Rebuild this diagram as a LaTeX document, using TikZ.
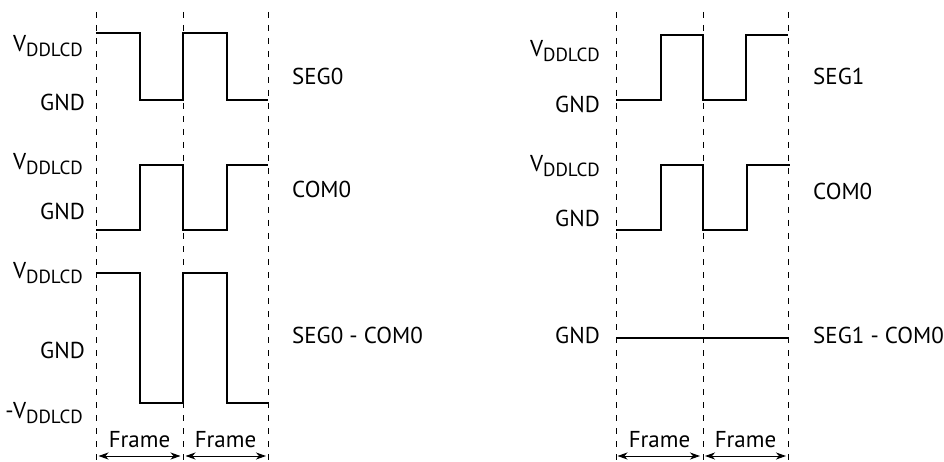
\documentclass[tikz,border=0pt]{standalone}
\usepackage{fontspec}
\setmainfont{PT Sans}
\usetikzlibrary{arrows.meta}
\newcommand{\vdd}{V\raisebox{-5pt}{\fontsize{19}{19}\selectfont DDLCD}}
\begin{document}
\begin{tikzpicture}[x=1pt,y=-1pt,
  lbl/.style={anchor=base east,inner sep=0pt,font=\fontsize{23}{27}\selectfont},
  sig/.style={anchor=base west,inner sep=0pt,font=\fontsize{23}{27}\selectfont},
  frm/.style={anchor=base,inner sep=0pt,font=\fontsize{23}{27}\selectfont},
  wave/.style={line width=2pt,line join=miter},
  guide/.style={line width=0.9pt,dash pattern=on 6pt off 7pt},
  span/.style={line width=1pt,{Stealth[length=10pt,width=7pt,inset=3pt]}-{Stealth[length=10pt,width=7pt,inset=3pt]}}]
\useasboundingbox (0,0) rectangle (944,462);
% dashed guides
\foreach \x in {96,183,268,616,703,788}{
  \draw[guide] (\x,12) -- (\x,462);
}
% ---------- left ----------
\draw[wave] (96,33.5) -- (139.5,33.5) -- (139.5,100) -- (183,100) -- (183,33.5) -- (226.5,33.5) -- (226.5,100) -- (268,100);
\draw[wave] (96,230) -- (139.5,230) -- (139.5,165.5) -- (183,165.5) -- (183,230) -- (226.5,230) -- (226.5,165.5) -- (268,165.5);
\draw[wave] (96,272.5) -- (139.5,272.5) -- (139.5,402.5) -- (183,402.5) -- (183,272.5) -- (226.5,272.5) -- (226.5,402.5) -- (268,402.5);
\node[lbl] (l1v) at (83,52) {\vdd};
\node[lbl] (l1g) at (85,110.5) {GND};
\node[lbl] (l2v) at (83,170) {\vdd};
\node[lbl] (l2g) at (85,220) {GND};
\node[lbl] (l3v) at (83,278) {\vdd};
\node[lbl] (l3g) at (85,358) {GND};
\node[lbl] (l3n) at (83,418) {-\vdd};
\node[sig] (s0) at (292,85) {SEG0};
\node[sig] (c0) at (292,198) {COM0};
\node[sig] (d0) at (292,343) {SEG0 - COM0};
\node[frm] (f1) at (139.5,447) {Frame};
\node[frm] (f2) at (225.5,447) {Frame};
\coordinate (a1) at (98.5,456);
\coordinate (a2) at (180.5,456);
\coordinate (a3) at (185.5,456);
\coordinate (a4) at (266,456);
\draw[span] (a1) -- (a2);
\draw[span] (a3) -- (a4);
% ---------- right ----------
\draw[wave] (616,100) -- (661,100) -- (661,35.5) -- (703,35.5) -- (703,100) -- (746,100) -- (746,35.5) -- (788,35.5);
\draw[wave] (616,230.5) -- (661,230.5) -- (661,165) -- (703,165) -- (703,230.5) -- (746.5,230.5) -- (746.5,165) -- (790,165);
\draw[wave] (616,337.5) -- (788,337.5);
\node[lbl] (r1v) at (600,57) {\vdd};
\node[lbl] (r1g) at (600,113) {GND};
\node[lbl] (r2v) at (600,172) {\vdd};
\node[lbl] (r2g) at (600,227) {GND};
\node[lbl] (r3g) at (600,343) {GND};
\node[sig] (s1) at (813,85) {SEG1};
\node[sig] (c1) at (813,200) {COM0};
\node[sig] (d1) at (813,343) {SEG1 - COM0};
\node[frm] (f3) at (659.5,447) {Frame};
\node[frm] (f4) at (745.5,447) {Frame};
\coordinate (b1) at (617.5,456);
\coordinate (b2) at (700,456);
\coordinate (b3) at (705,456);
\coordinate (b4) at (786,456);
\draw[span] (b1) -- (b2);
\draw[span] (b3) -- (b4);
\end{tikzpicture}
\end{document}
